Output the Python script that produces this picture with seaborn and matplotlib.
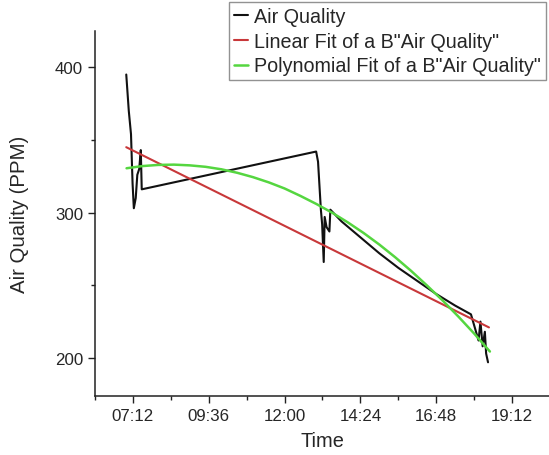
import matplotlib

matplotlib.use("Agg")
import matplotlib.pyplot as plt
import pandas as pd
import seaborn as sns
from matplotlib.ticker import FuncFormatter, MultipleLocator

sns.set_theme(style="ticks")
plt.rcParams["font.family"] = ["Liberation Sans", "DejaVu Sans"]

# time in decimal hours, values in PPM
aq_time = [6.99, 7.07, 7.14, 7.19, 7.23, 7.29, 7.34, 7.40, 7.45, 7.48,
           13.00, 13.06, 13.15, 13.19, 13.24, 13.27, 13.33, 13.42, 13.45,
           13.80, 14.40, 15.00, 15.60, 16.20, 16.80, 17.40, 17.90,
           18.14, 18.20, 18.27, 18.34, 18.38, 18.44]
aq_value = [395, 370, 354, 320, 303, 310, 326, 330, 343, 316,
            342, 335, 302, 292, 266, 297, 290, 287, 302,
            294, 283, 272, 262, 253, 244, 236, 230,
            212, 225, 208, 218, 203, 197]

lin_time = [6.99, 18.47]
lin_value = [345, 221]

poly_time = [7.0, 7.5, 8.0, 8.5, 9.0, 9.5, 10.0, 10.5, 11.0, 11.5, 12.0, 12.5,
             13.0, 13.5, 14.0, 14.5, 15.0, 15.5, 16.0, 16.5, 17.0, 17.5, 18.0, 18.5]
poly_value = [330.5, 332.0, 332.8, 333.0, 332.5, 331.5, 329.8, 327.4, 324.4, 320.8,
              316.6, 311.5, 306.0, 300.0, 293.3, 286.0, 278.0, 269.3, 260.0, 250.0,
              239.6, 228.5, 216.8, 204.4]

x_ticks = [7.2, 9.6, 12.0, 14.4, 16.8, 19.2]

aq = pd.DataFrame({"time": aq_time, "value": aq_value})
lin = pd.DataFrame({"time": lin_time, "value": lin_value})
poly = pd.DataFrame({"time": poly_time, "value": poly_value})


def hhmm(x, pos):
    h = int(x)
    m = int(round((x - h) * 60))
    return f"{h:02d}:{m:02d}"


fig = plt.figure(figsize=(5.49, 4.56), dpi=100)
ax = fig.add_axes([0.173, 0.13, 0.827, 0.80])

sns.lineplot(data=aq, x="time", y="value", sort=False, color="#111111",
             linewidth=1.5, label="Air Quality", ax=ax)
sns.lineplot(data=lin, x="time", y="value", color="#c8383a",
             linewidth=1.5, label='Linear Fit of a B"Air Quality"', ax=ax)
sns.lineplot(data=poly, x="time", y="value", color="#55d640",
             linewidth=1.8, label='Polynomial Fit of a B"Air Quality"', ax=ax)

ax.set_xlim(6.0, 20.37)
ax.set_ylim(174, 425)
ax.set_xticks(x_ticks)
ax.xaxis.set_major_formatter(FuncFormatter(hhmm))
ax.xaxis.set_minor_locator(MultipleLocator(1.2))
ax.yaxis.set_major_locator(MultipleLocator(100))
ax.yaxis.set_minor_locator(MultipleLocator(50))
ax.tick_params(which="major", length=5, width=1, labelsize=12.2, color="#222222")
ax.tick_params(which="minor", length=3, width=1, color="#222222")
for side in ["top", "right"]:
    ax.spines[side].set_visible(False)
for side in ["left", "bottom"]:
    ax.spines[side].set_color("#222222")
    ax.spines[side].set_linewidth(1.1)

ax.set_xlabel("Time", fontsize=14.4, labelpad=6)
ax.set_ylabel("Air Quality (PPM)", fontsize=14.7)
ax.yaxis.set_label_coords(-0.145, 0.5)

ax.get_legend().remove()
handles, labels = ax.get_legend_handles_labels()
leg = fig.legend(handles, labels, loc="upper right", bbox_to_anchor=(0.994, 0.994),
                 fontsize=14.2, frameon=True, fancybox=False, handlelength=0.7,
                 handletextpad=0.3, borderpad=0.25, labelspacing=0.3,
                 borderaxespad=0)
leg.get_frame().set_edgecolor("#777777")
leg.get_frame().set_linewidth(1.0)

fig.savefig("out.png", dpi=100, facecolor="white")
